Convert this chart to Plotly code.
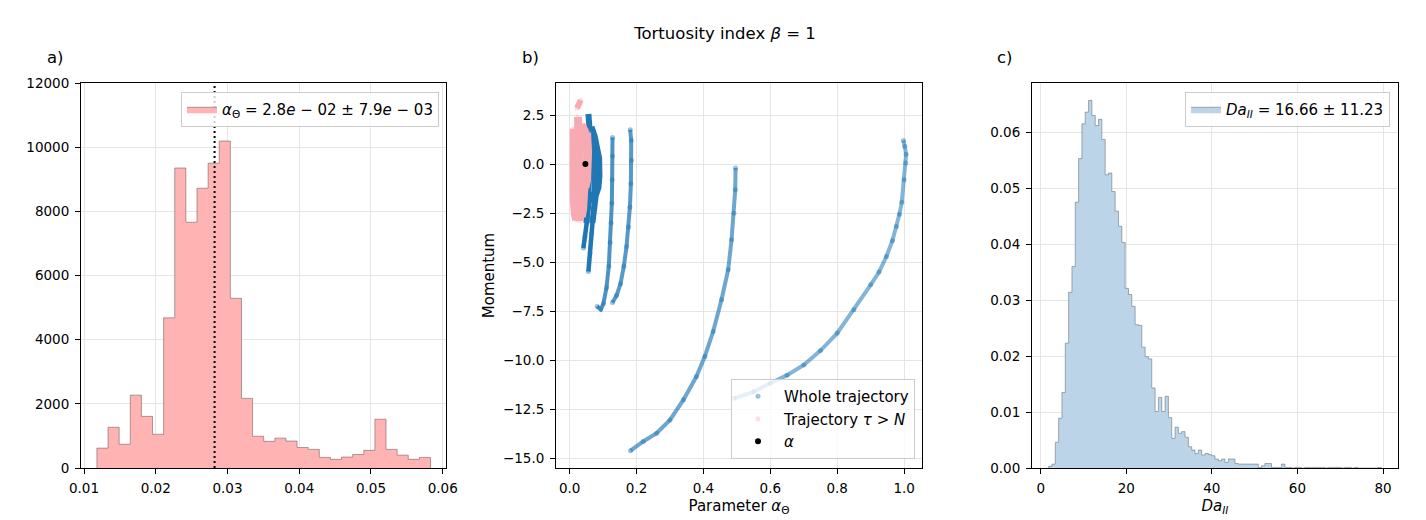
import numpy as np
import plotly.graph_objects as go

FONT = "DejaVu Sans"
W, H = 1426, 520
OFF = 8  # page body margin of the browser

# ---------------- Panel a: histogram of alpha_Theta ----------------
a_lo, a_hi = 0.0118, 0.0583
a_counts = [620, 1270, 740, 2270, 1610, 1050, 4680, 9350, 7660, 8720,
            9500, 10190, 5290, 2170, 990, 830, 930, 840, 640, 580,
            330, 270, 340, 420, 550, 1520, 580, 400, 270, 330]
a_mean = 0.0282
a_label = "<i>α</i><sub>Θ</sub> = 2.8<i>e</i> − 02 ± 7.9<i>e</i> − 03"
a_xticks = [0.01, 0.02, 0.03, 0.04, 0.05, 0.06]
a_yticks = [0, 2000, 4000, 6000, 8000, 10000, 12000]

# ---------------- Panel c: histogram of Da_II ----------------
c_lo, c_hi = 1.86, 79.6
c_density = [0.0003, 0.0007, 0.0046, 0.0089, 0.0135, 0.0223, 0.0314, 0.0360, 0.0475, 0.0553,
             0.0615, 0.0636, 0.0657, 0.0630, 0.0612, 0.0623, 0.0587, 0.0524, 0.0527, 0.0494,
             0.0459, 0.0432, 0.0403, 0.0321, 0.0310, 0.0289, 0.0256, 0.0255, 0.0216, 0.0199,
             0.0195, 0.0143, 0.0101, 0.0126, 0.0101, 0.0128, 0.0090, 0.0053, 0.0073, 0.0062,
             0.0065, 0.0055, 0.0038, 0.0032, 0.0026, 0.0032, 0.0023, 0.0026, 0.0024, 0.0022,
             0.0016, 0.0013, 0.0016, 0.0010, 0.0016, 0.0016, 0.0008, 0.0007, 0.0007, 0.0007,
             0.0007, 0.0007, 0.0007, 0.0001, 0.0004, 0.0008, 0.0008, 0.0001, 0.0001, 0.0001,
             0.0007, 0.0001, 0.0001, 0.0, 0.0001, 0.0001, 0.0, 0.0001, 0.0001, 0.0001,
             0.0001, 0.0001, 0.0001, 0.0, 0.0001, 0.0001, 0.0001, 0.0001, 0.0, 0.0001,
             0.0001, 0.0, 0.0001, 0.0, 0.0, 0.0, 0.0, 0.0, 0.0, 0.0001]
c_label = "<i>Da</i><sub><i>II</i></sub> = 16.66 ± 11.23"
c_xticks = [0, 20, 40, 60, 80]
c_yticks = [0.0, 0.01, 0.02, 0.03, 0.04, 0.05, 0.06]

# ---------------- Panel b: trajectories (alpha_Theta, momentum) ----------------
traj_big_x = [0.492, 0.55, 0.60, 0.65, 0.70, 0.75, 0.80, 0.85, 0.90, 0.925, 0.947, 0.965, 0.977, 0.986, 0.993, 1.000, 1.005, 1.006, 1.002, 0.998]
traj_big_y = [-11.93, -11.60, -11.16, -10.75, -10.23, -9.50, -8.61, -7.42, -6.15, -5.50, -4.71, -3.90, -3.18, -2.55, -1.95, -0.80, 0.05, 0.50, 0.90, 1.20]
traj_mid_x = [0.182, 0.22, 0.26, 0.30, 0.34, 0.379, 0.404, 0.429, 0.454, 0.474, 0.484, 0.491, 0.495, 0.496]
traj_mid_y = [-14.60, -14.13, -13.71, -13.03, -12.01, -10.82, -9.80, -8.53, -6.91, -5.38, -3.86, -2.50, -1.31, -0.20]
traj_3_x = [0.128, 0.140, 0.152, 0.162, 0.170, 0.176, 0.180, 0.183, 0.185, 0.184, 0.181]
traj_3_y = [-7.05, -6.70, -6.10, -5.20, -4.20, -3.20, -2.20, -1.00, 0.20, 1.20, 1.75]
traj_4_x = [0.082, 0.093, 0.101, 0.110, 0.117, 0.121, 0.124, 0.126, 0.127, 0.128, 0.128]
traj_4_y = [-7.25, -7.40, -7.10, -6.30, -5.20, -4.00, -3.00, -2.00, -0.80, 0.40, 1.35]
traj_5_x = [0.056, 0.061, 0.066, 0.072, 0.077]
traj_5_y = [-5.47, -4.54, -3.52, -2.30, -1.20]
traj_6_x = [0.041, 0.046, 0.052, 0.058, 0.062]
traj_6_y = [-4.28, -3.69, -3.00, -2.20, -1.60]
blob_1_x = [0.056, 0.060, 0.062, 0.060, 0.058, 0.055, 0.050]
blob_1_y = [2.55, 2.00, 1.20, 0.00, -1.00, -2.00, -3.00]
blob_2_x = [0.065, 0.075, 0.082, 0.088, 0.089, 0.086, 0.078, 0.072, 0.068]
blob_2_y = [1.90, 1.40, 0.80, 0.30, -0.60, -1.20, -1.60, -2.20, -3.00]
blob_3_x = [0.068, 0.074, 0.076, 0.074, 0.065, 0.050]
blob_3_y = [1.20, 0.40, -0.60, -1.40, -1.80, -1.70]

pink_1_x = [0.012, 0.010, 0.009, 0.012, 0.016, 0.020]
pink_1_y = [1.80, 0.50, -0.80, -1.80, -2.60, -2.85]
pink_2_x = [0.025, 0.027, 0.026, 0.028, 0.030]
pink_2_y = [2.40, 1.00, -0.50, -2.00, -2.90]
pink_3_x = [0.035, 0.045, 0.050, 0.048, 0.045, 0.040, 0.036]
pink_3_y = [2.00, 1.70, 0.50, -0.80, -1.60, -2.30, -2.70]
pink_4_x = [0.055, 0.058, 0.055, 0.050]
pink_4_y = [1.60, 0.60, -0.80, -1.20]
pink_top_x = [0.022, 0.033]
pink_top_y = [2.85, 3.25]

alpha_true_x = [0.047]
alpha_true_y = [0.0]

b_xticks = [0.0, 0.2, 0.4, 0.6, 0.8, 1.0]
b_yticks = [2.5, 0.0, -2.5, -5.0, -7.5, -10.0, -12.5, -15.0]

BLUE = "31,119,180"

def step_outline(lo, hi, vals):
    n = len(vals)
    edges = np.linspace(lo, hi, n + 1)
    xs = [edges[0]] + list(edges[:-1]) + [edges[-1]]
    ys = [0.0] + list(vals) + [0.0]
    return xs, ys


fig = go.Figure()

ax, ay = step_outline(a_lo, a_hi, a_counts)
fig.add_trace(go.Scatter(
    x=ax, y=ay, mode="lines", line=dict(shape="hv", color="rgba(110,90,90,0.55)", width=1),
    fill="tozeroy", fillcolor="rgb(255,179,179)", name=a_label,
    xaxis="x", yaxis="y", legend="legend"))

def add_line(xs, ys, color, width):
    fig.add_trace(go.Scatter(x=xs, y=ys, mode="lines", line=dict(color=color, width=width),
                             showlegend=False, hoverinfo="skip", xaxis="x2", yaxis="y2"))

all_bx = traj_big_x + traj_mid_x + traj_3_x + traj_4_x + traj_5_x + traj_6_x
all_by = traj_big_y + traj_mid_y + traj_3_y + traj_4_y + traj_5_y + traj_6_y
fig.add_trace(go.Scatter(x=all_bx, y=all_by, mode="markers",
                         marker=dict(size=5, color=f"rgba({BLUE},0.45)", line=dict(width=0)),
                         name="Whole trajectory", xaxis="x2", yaxis="y2", legend="legend2"))
add_line(traj_big_x, traj_big_y, f"rgba({BLUE},0.55)", 4)
add_line(traj_mid_x, traj_mid_y, f"rgba({BLUE},0.65)", 4)
add_line(traj_3_x, traj_3_y, f"rgba({BLUE},0.75)", 4)
add_line(traj_4_x, traj_4_y, f"rgba({BLUE},0.8)", 4)
add_line(traj_5_x, traj_5_y, f"rgb({BLUE})", 4.5)
add_line(traj_6_x, traj_6_y, f"rgb({BLUE})", 4.5)
add_line(blob_1_x, blob_1_y, f"rgb({BLUE})", 6)
add_line(blob_2_x, blob_2_y, f"rgb({BLUE})", 6)
add_line(blob_3_x, blob_3_y, f"rgb({BLUE})", 6)

all_px = pink_1_x + pink_2_x + pink_3_x + pink_4_x + pink_top_x
all_py = pink_1_y + pink_2_y + pink_3_y + pink_4_y + pink_top_y
fig.add_trace(go.Scatter(x=all_px, y=all_py, mode="markers",
                         marker=dict(size=5, color="rgba(250,175,185,0.4)", line=dict(width=0)),
                         name="Trajectory <i>τ</i> > <i>N</i>", xaxis="x2", yaxis="y2", legend="legend2"))
PINK = "rgb(247,170,178)"
add_line(pink_1_x, pink_1_y, PINK, 8)
add_line(pink_2_x, pink_2_y, PINK, 8)
add_line(pink_3_x, pink_3_y, PINK, 8)
add_line(pink_4_x, pink_4_y, PINK, 6)
add_line(pink_top_x, pink_top_y, PINK, 6)

fig.add_trace(go.Scatter(x=alpha_true_x, y=alpha_true_y, mode="markers",
                         marker=dict(size=6, color="black"), name="<i>α</i>",
                         xaxis="x2", yaxis="y2", legend="legend2"))

cx, cy = step_outline(c_lo, c_hi, c_density)
fig.add_trace(go.Scatter(
    x=cx, y=cy, mode="lines", line=dict(shape="hv", color="rgba(100,110,120,0.55)", width=1),
    fill="tozeroy", fillcolor="rgb(187,212,232)", name=c_label,
    xaxis="x3", yaxis="y3", legend="legend3"))

def px(x):
    return (x - OFF) / W

def py(y):
    return 1 - (y - OFF) / H

ydom = [py(468), py(83)]
axis_common = dict(showline=True, mirror=True, linecolor="black", linewidth=1,
                   ticks="outside", ticklen=5, tickwidth=1, tickcolor="black",
                   showgrid=True, gridcolor="#e5e5e5", gridwidth=1, zeroline=False,
                   automargin=False, ticklabelstandoff=3,
                   tickfont=dict(family=FONT, size=13.5, color="black"))

fig.update_layout(
    width=W, height=H, margin=dict(l=0, r=0, t=0, b=0, autoexpand=False),
    paper_bgcolor="white", plot_bgcolor="white",
    font=dict(family=FONT, size=15, color="black"),
    xaxis=dict(domain=[px(81), px(446)], range=[0.009582, 0.06046], tickvals=a_xticks,
               tickformat=".2f", anchor="y", **axis_common),
    yaxis=dict(domain=ydom, range=[0, 12000], tickvals=a_yticks, tickformat="d",
               anchor="x", **axis_common),
    xaxis2=dict(domain=[px(556), px(922)], range=[-0.0409, 1.0535], tickvals=b_xticks,
                tickformat=".1f", anchor="y2",
                title=dict(text="Parameter <i>α</i><sub>Θ</sub>", font=dict(size=15), standoff=5),
                **axis_common),
    yaxis2=dict(domain=ydom, range=[-15.48, 4.13], tickvals=b_yticks, tickformat=".1f",
                anchor="x2", title=dict(text="Momentum", font=dict(size=15), standoff=4),
                **axis_common),
    xaxis3=dict(domain=[px(1032), px(1398)], range=[-2.03, 83.5], tickvals=c_xticks,
                tickformat="d", anchor="y3",
                title=dict(text="<i>Da</i><sub><i>II</i></sub>", font=dict(size=15), standoff=5),
                **axis_common),
    yaxis3=dict(domain=ydom, range=[0, 0.0688], tickvals=c_yticks, tickformat=".2f",
                anchor="x3", **axis_common),
    legend=dict(x=px(439), y=py(92), xanchor="right", yanchor="top",
                bgcolor="rgba(255,255,255,0.8)", bordercolor="#cccccc", borderwidth=1,
                font=dict(family=FONT, size=15)),
    legend2=dict(x=px(915), y=py(459), xanchor="right", yanchor="bottom",
                 bgcolor="rgba(255,255,255,0.8)", bordercolor="#cccccc", borderwidth=1,
                 font=dict(family=FONT, size=15), tracegroupgap=0, itemwidth=42),
    legend3=dict(x=px(1390), y=py(92), xanchor="right", yanchor="top",
                 bgcolor="rgba(255,255,255,0.8)", bordercolor="#cccccc", borderwidth=1,
                 font=dict(family=FONT, size=15)),
    title=dict(text="Tortuosity index <i>β</i> = 1", x=px(725), y=py(33),
               xanchor="center", yanchor="middle", font=dict(family=FONT, size=16.5)),
    showlegend=True,
)

fig.add_shape(type="line", xref="x", yref="y domain", x0=a_mean, x1=a_mean, y0=0, y1=1,
              line=dict(color="black", width=2, dash="2px,3px"))

for lab, xx in [("a)", 55), ("b)", 530), ("c)", 1005)]:
    fig.add_annotation(text=lab, x=px(xx), y=py(57), xref="paper", yref="paper",
                       showarrow=False, xanchor="center", yanchor="middle",
                       font=dict(family=FONT, size=16.5, color="black"))

fig.write_html("out.html")
